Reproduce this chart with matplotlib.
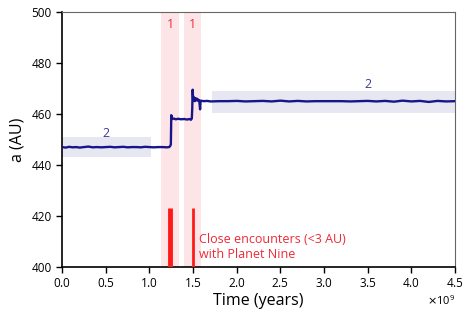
import matplotlib
matplotlib.use("Agg")
import matplotlib.pyplot as plt
from matplotlib.ticker import ScalarFormatter

plt.rcParams['font.family'] = ['Open Sans', 'DejaVu Sans']

# semimajor axis history (time in units of 1e9 yr, a in AU)
t = [0.00, 0.04, 0.08, 0.12, 0.16, 0.20, 0.25, 0.30, 0.35, 0.40, 0.45, 0.50,
     0.55, 0.60, 0.65, 0.70, 0.75, 0.80, 0.85, 0.90, 0.95, 1.00, 1.05, 1.10,
     1.15, 1.20, 1.225, 1.235, 1.245, 1.25, 1.26, 1.28, 1.30, 1.33, 1.36, 1.40,
     1.43, 1.46, 1.475, 1.485, 1.49, 1.495, 1.50, 1.505, 1.51, 1.52, 1.53, 1.54,
     1.55, 1.56, 1.57, 1.58, 1.585, 1.59, 1.62, 1.66, 1.70, 1.80, 1.90, 2.00,
     2.10, 2.20, 2.30, 2.40, 2.50, 2.60, 2.70, 2.80, 2.90, 3.00, 3.10, 3.20,
     3.30, 3.40, 3.50, 3.60, 3.70, 3.80, 3.90, 4.00, 4.10, 4.20, 4.30, 4.40, 4.50]
a = [447.0, 446.8, 447.1, 446.9, 447.0, 446.8, 447.0, 447.2, 446.9, 447.0, 446.9, 447.0,
     447.1, 446.9, 447.0, 447.1, 446.9, 447.0, 447.0, 446.9, 447.1, 447.0, 446.9, 447.0,
     447.0, 446.9, 447.0, 447.3, 448.0, 459.5, 458.0, 458.2, 457.9, 458.1, 457.9, 458.0,
     457.8, 458.0, 457.7, 458.2, 462.0, 469.5, 466.0, 465.4, 466.5, 465.0, 466.2, 465.3,
     465.9, 465.1, 465.4, 461.8, 464.8, 465.2, 465.0, 465.1, 464.9, 465.0, 465.0, 465.1,
     464.9, 465.0, 465.1, 464.9, 465.2, 464.9, 465.1, 464.9, 465.0, 465.0, 465.0, 465.0,
     464.9, 465.0, 465.1, 464.9, 465.1, 464.8, 465.2, 464.9, 465.1, 464.7, 465.1, 464.9, 465.0]

# encounter windows (red bands) and resonance windows (blue bands)
enc_spans = [(1.13, 1.34), (1.39, 1.595)]
enc_labels = ["1", "1"]
res_spans = [(0.0, 1.02, 443.0, 451.0), (1.72, 4.5, 460.5, 469.0)]
res_labels = ["2", "2"]
res_label_x = [0.5, 3.5]
res_label_y = [452.5, 471.5]

# close encounters with Planet Nine
enc_times = [1.237, 1.495]
enc_width = [3.5, 2.0]
enc_top = 423

fig, ax = plt.subplots(figsize=(4.71, 3.22), dpi=100)
fig.subplots_adjust(left=0.132, right=0.966, top=0.963, bottom=0.171)

for (x0, x1), lab in zip(enc_spans, enc_labels):
    ax.axvspan(x0 * 1e9, x1 * 1e9, color='#fde4e6', lw=0, zorder=0)
    ax.text((x0 + x1) / 2 * 1e9, 495, lab, color='#e8323c', fontsize=9,
            ha='center', va='center')

for (x0, x1, y0, y1), lab, lx, ly in zip(res_spans, res_labels, res_label_x, res_label_y):
    ax.fill_between([x0 * 1e9, x1 * 1e9], y0, y1, color='#e7e7f1', lw=0, zorder=0)
    ax.text(lx * 1e9, ly, lab, color='#3b3b96', fontsize=9, ha='center', va='center')

ax.plot([x * 1e9 for x in t], a, color='#16168a', lw=1.7, zorder=3)

for x, w in zip(enc_times, enc_width):
    ax.plot([x * 1e9, x * 1e9], [400, enc_top], color='#ff1a1a', lw=w,
            solid_capstyle='butt', zorder=3)

ax.text(1.57e9, 407.8, "Close encounters (<3 AU)\nwith Planet Nine", color='#ee2a36',
        fontsize=9, va='center', ha='left', linespacing=1.2)

ax.set_xlim(0, 4.5e9)
ax.set_ylim(400, 500)
ax.set_xticks([i * 0.5e9 for i in range(10)])
ax.set_yticks([400, 420, 440, 460, 480, 500])
fmt = ScalarFormatter(useMathText=True)
ax.xaxis.set_major_formatter(fmt)
ax.tick_params(direction='out', labelsize=8.5, length=4, width=1)
ax.set_xlabel("Time (years)", fontsize=11.5, labelpad=2)
ax.set_ylabel("a (AU)", fontsize=11.5)
ax.xaxis.get_offset_text().set_fontsize(8)
for side in ['top', 'right']:
    ax.spines[side].set_color('#666666')
for side in ['left', 'bottom']:
    ax.spines[side].set_linewidth(1.2)

fig.savefig("out.png", dpi=100)
